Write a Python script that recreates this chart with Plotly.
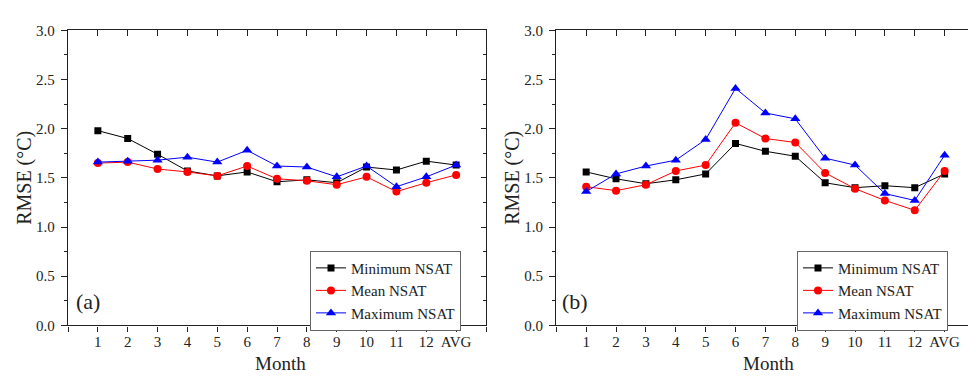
import plotly.graph_objects as go

months = ["1", "2", "3", "4", "5", "6", "7", "8", "9", "10", "11", "12", "AVG"]
xpos = list(range(1, 14))

# Panel (a)
a_min = [1.98, 1.90, 1.74, 1.57, 1.52, 1.56, 1.46, 1.48, 1.45, 1.61, 1.58, 1.67, 1.63]
a_mean = [1.65, 1.66, 1.59, 1.56, 1.52, 1.62, 1.49, 1.47, 1.43, 1.51, 1.36, 1.45, 1.53]
a_max = [1.66, 1.67, 1.68, 1.71, 1.66, 1.78, 1.62, 1.61, 1.51, 1.62, 1.41, 1.51, 1.63]

# Panel (b)
b_min = [1.56, 1.49, 1.44, 1.48, 1.54, 1.85, 1.77, 1.72, 1.45, 1.40, 1.42, 1.40, 1.54]
b_mean = [1.41, 1.37, 1.43, 1.57, 1.63, 2.06, 1.90, 1.86, 1.55, 1.39, 1.27, 1.17, 1.57]
b_max = [1.36, 1.54, 1.62, 1.68, 1.89, 2.41, 2.16, 2.10, 1.70, 1.63, 1.34, 1.27, 1.73]

series_names = ["Minimum NSAT", "Mean NSAT", "Maximum NSAT"]
colors = ["#000000", "#ff0000", "#0000ff"]
symbols = ["square", "circle", "triangle-up"]
msizes = [7, 8, 9]

FONT = "Liberation Serif, Times New Roman, serif"
TXT = "#222222"

W, H = 976, 378
def px_x(p):
    return p / W
def px_y(p):
    return (H - p) / H

dom_a = [px_x(60), px_x(478)]
dom_b = [px_x(548.3), px_x(966.5)]
dom_y = [px_y(323), px_y(15)]

fig = go.Figure()

panels = [
    ("x", "y", [a_min, a_mean, a_max], "legend"),
    ("x2", "y2", [b_min, b_mean, b_max], "legend2"),
]
for xa, ya, data, leg in panels:
    for name, vals, c, s, ms in zip(series_names, data, colors, symbols, msizes):
        fig.add_trace(go.Scatter(
            x=xpos, y=vals, name=name, mode="lines+markers",
            line=dict(color=c, width=1),
            marker=dict(symbol=s, size=ms, color=c),
            xaxis=xa, yaxis=ya, legend=leg, showlegend=True,
        ))

# dummy traces to instantiate the mirrored (inside-tick) overlay axes
fig.add_trace(go.Scatter(x=[None], y=[None], xaxis="x3", yaxis="y3", showlegend=False, hoverinfo="skip"))
fig.add_trace(go.Scatter(x=[None], y=[None], xaxis="x4", yaxis="y4", showlegend=False, hoverinfo="skip"))

tickvals_x = list(range(0, 15))
ticktext_x = [""] + months + [""]

def xaxis_main(dom, anchor):
    return dict(domain=dom, anchor=anchor, range=[0, 14], tickmode="array",
                tickvals=tickvals_x, ticktext=ticktext_x, ticks="outside", ticklen=5,
                tickwidth=1.2, tickcolor="#222", showline=True, linecolor="#222",
                linewidth=1.4, mirror=True, showgrid=False, zeroline=False,
                ticklabelstandoff=-3,
                tickfont=dict(family=FONT, size=15, color=TXT))

def yaxis_main(dom, anchor):
    return dict(domain=dom, anchor=anchor, range=[0, 3], tickmode="array",
                tickvals=[0, 0.5, 1.0, 1.5, 2.0, 2.5, 3.0], tickformat=".1f",
                ticks="outside", ticklen=6, tickwidth=1.2, tickcolor="#222",
                minor=dict(tickmode="array", tickvals=[0.25, 0.75, 1.25, 1.75, 2.25, 2.75],
                           ticks="outside", ticklen=3, tickwidth=1.2, tickcolor="#222"),
                showline=True, linecolor="#222", linewidth=1.4, mirror=True,
                showgrid=False, zeroline=False, ticklabelstandoff=3,
                tickfont=dict(family=FONT, size=15, color=TXT))

def xaxis_top(over, anchor):
    return dict(overlaying=over, anchor=anchor, side="top", range=[0, 14],
                tickmode="array", tickvals=tickvals_x, showticklabels=False,
                ticks="inside", ticklen=6, tickwidth=1.2, tickcolor="#222",
                showline=False, showgrid=False, zeroline=False)

def yaxis_right(over, anchor):
    return dict(overlaying=over, anchor=anchor, side="right", range=[0, 3],
                tickmode="array", tickvals=[0, 0.5, 1.0, 1.5, 2.0, 2.5, 3.0],
                showticklabels=False, ticks="inside", ticklen=5, tickwidth=1.2, tickcolor="#222",
                minor=dict(tickmode="array", tickvals=[0.25, 0.75, 1.25, 1.75, 2.25, 2.75],
                           ticks="inside", ticklen=3, tickwidth=1.2, tickcolor="#222"),
                showline=False, showgrid=False, zeroline=False)

legend_style = dict(bgcolor="white", bordercolor="#666", borderwidth=1,
                    font=dict(family=FONT, size=15, color=TXT),
                    xanchor="left", yanchor="top", tracegroupgap=0)

fig.update_layout(
    width=W, height=H,
    margin=dict(l=0, r=0, t=0, b=0),
    font=dict(family=FONT, size=15, color=TXT),
    paper_bgcolor="white", plot_bgcolor="white",
    xaxis=xaxis_main(dom_a, "y"),
    yaxis=yaxis_main(dom_y, "x"),
    xaxis2=xaxis_main(dom_b, "y2"),
    yaxis2=yaxis_main(dom_y, "x2"),
    xaxis3=xaxis_top("x", "y"),
    yaxis3=yaxis_right("y", "x"),
    xaxis4=xaxis_top("x2", "y2"),
    yaxis4=yaxis_right("y2", "x2"),
    legend=dict(x=px_x(302), y=px_y(245), **legend_style),
    legend2=dict(x=px_x(789), y=px_y(245), **legend_style),
    showlegend=True,
)

annots = [
    dict(text="(a)", xref="x domain", yref="y domain", x=0.015, y=0.082,
         xanchor="left", yanchor="middle", showarrow=False,
         font=dict(family=FONT, size=22, color=TXT)),
    dict(text="(b)", xref="x2 domain", yref="y2 domain", x=0.009, y=0.082,
         xanchor="left", yanchor="middle", showarrow=False,
         font=dict(family=FONT, size=22, color=TXT)),
    dict(text="RMSE (°C)", xref="paper", yref="paper", x=px_x(17), y=px_y(169),
         textangle=-90, xanchor="center", yanchor="middle", showarrow=False,
         font=dict(family=FONT, size=20, color=TXT)),
    dict(text="RMSE (°C)", xref="paper", yref="paper", x=px_x(505), y=px_y(169),
         textangle=-90, xanchor="center", yanchor="middle", showarrow=False,
         font=dict(family=FONT, size=20, color=TXT)),
    dict(text="Month", xref="paper", yref="paper", x=px_x(272), y=px_y(363),
         xanchor="center", yanchor="middle", showarrow=False,
         font=dict(family=FONT, size=19, color=TXT)),
    dict(text="Month", xref="paper", yref="paper", x=px_x(760), y=px_y(363),
         xanchor="center", yanchor="middle", showarrow=False,
         font=dict(family=FONT, size=19, color=TXT)),
]
fig.update_layout(annotations=annots)

fig.write_html("out.html")
